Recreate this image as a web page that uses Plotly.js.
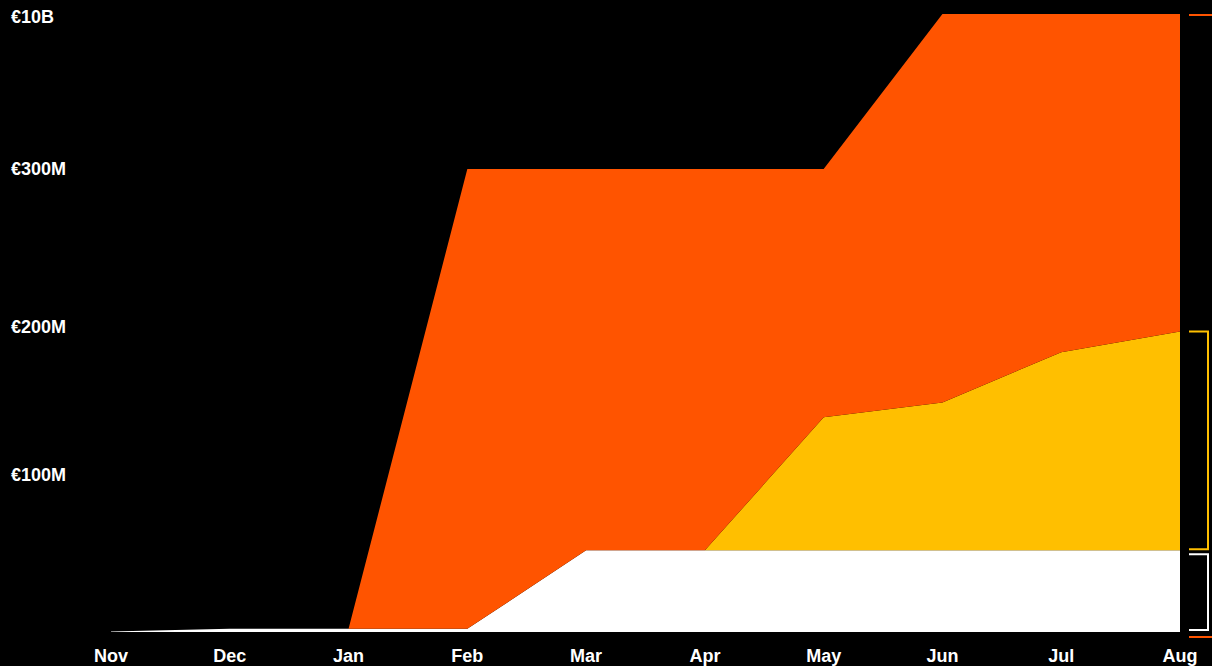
<!DOCTYPE html>
<html>
<head>
<meta charset="utf-8">
<script src="https://cdn.plot.ly/plotly-3.0.1.min.js"></script>
<style>html,body{margin:0;padding:0;background:#000;}#chart{width:1212px;height:666px;}</style>
</head>
<body>
<div id="chart"></div>
<script>
// Months
const months = ['Nov','Dec','Jan','Feb','Mar','Apr','May','Jun','Jul','Aug'];
// Layer amounts in € millions (stacked bottom to top)
const whiteSeries  = [0.3, 2, 2, 2, 52, 52, 52, 52, 52, 52];
const yellowSeries = [0, 0, 0, 0, 0, 0, 87, 97, 131, 145];
const orangeSeries = [0, 0, 0, 298, 248, 248, 161, 9851, 9817, 9803];
// Y tick labels (values in € millions)
const tickValues = [100, 200, 300, 10000];
const tickLabels = ['€100M', '€200M', '€300M', '€10B'];

// Broken (piecewise-linear) scale used by the original chart
const scaleIn  = [0, 100, 200, 300, 10000];
const scaleOut = [0, 157, 305, 463, 618];
function scale(v) {
  for (let i = 1; i < scaleIn.length; i++) {
    if (v <= scaleIn[i]) {
      const t = (v - scaleIn[i-1]) / (scaleIn[i] - scaleIn[i-1]);
      return scaleOut[i-1] + t * (scaleOut[i] - scaleOut[i-1]);
    }
  }
  return scaleOut[scaleOut.length - 1];
}
const yMax = scaleOut[scaleOut.length - 1];

const cumWhite  = whiteSeries.slice();
const cumYellow = cumWhite.map((v, i) => v + yellowSeries[i]);
const cumOrange = cumYellow.map((v, i) => v + orangeSeries[i]);

function area(cum, color, fill) {
  return {
    x: months, y: cum.map(scale), type: 'scatter', mode: 'lines',
    fill: fill, fillcolor: color, line: {width: 0, color: color},
    hoverinfo: 'skip', showlegend: false
  };
}
const data = [
  area(cumWhite, '#FFFFFF', 'tozeroy'),
  area(cumYellow, '#FFBF00', 'tonexty'),
  area(cumOrange, '#FF5400', 'tonexty')
];

const font = {family: 'Liberation Sans, Arial, sans-serif', color: '#FFFFFF', size: 18, weight: 'bold'};
const plotL = 111, plotW = 1212 - 111 - 32;
const px = p => (p - plotL) / plotW;

const annotations = tickValues.map((v, i) => ({
  xref: 'paper', yref: 'paper', x: px(9), y: Math.min(scale(v), yMax - 3) / yMax,
  xanchor: 'left', yanchor: 'middle', showarrow: false, text: tickLabels[i], font: font
}));

const last = months.length - 1;
const yTop = scale(cumYellow[last]) / yMax;
const yBot = (scale(cumWhite[last]) + 1) / yMax;
const wTop = (scale(cumWhite[last]) - 4) / yMax;
const wBot = 2 / yMax;
const bx0 = px(1189), bx1 = px(1208);
const shapes = [
  {type: 'path', xref: 'paper', yref: 'paper',
   path: `M ${bx0} ${yTop} L ${bx1} ${yTop} L ${bx1} ${yBot} L ${bx0} ${yBot}`,
   line: {color: '#FFBF00', width: 2}},
  {type: 'path', xref: 'paper', yref: 'paper',
   path: `M ${bx0} ${wTop} L ${bx1} ${wTop} L ${bx1} ${wBot} L ${bx0} ${wBot}`,
   line: {color: '#FFFFFF', width: 2}},
  {type: 'line', xref: 'paper', yref: 'paper', x0: bx0, x1: px(1215),
   y0: (scale(cumOrange[last]) - 1) / yMax, y1: (scale(cumOrange[last]) - 1) / yMax,
   line: {color: '#FF5400', width: 2}},
  {type: 'line', xref: 'paper', yref: 'paper', x0: bx0, x1: px(1215),
   y0: -5 / yMax, y1: -5 / yMax, line: {color: '#FF5400', width: 2}}
];

const layout = {
  width: 1212, height: 666,
  margin: {l: 111, r: 32, t: 14, b: 34},
  paper_bgcolor: '#000000', plot_bgcolor: '#000000',
  showlegend: false,
  xaxis: {type: 'category', range: [0, last], showgrid: false, zeroline: false,
          showline: false, ticks: '', tickfont: font, ticklabelstandoff: 11, fixedrange: true},
  yaxis: {range: [0, yMax], showgrid: false, zeroline: false, showline: false,
          showticklabels: false, ticks: '', fixedrange: true},
  annotations: annotations,
  shapes: shapes
};
Plotly.newPlot('chart', data, layout, {displayModeBar: false, staticPlot: true});
</script>
</body>
</html>
